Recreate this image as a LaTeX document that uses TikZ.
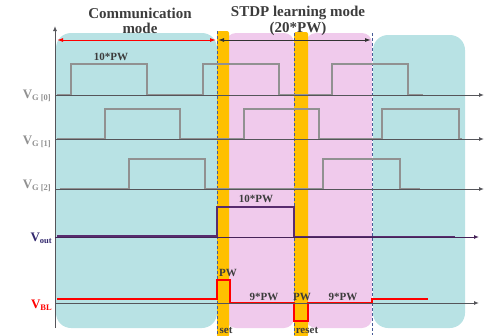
\documentclass[tikz,border=0pt]{standalone}
\usepackage{fontspec}
\setmainfont{Liberation Serif}
\usetikzlibrary{arrows.meta}
\definecolor{cyanbg}{RGB}{184,226,228}
\definecolor{pinkbg}{RGB}{240,202,236}
\definecolor{orangebar}{RGB}{255,192,0}
\definecolor{siggray}{RGB}{145,145,145}
\definecolor{axisgray}{RGB}{85,85,90}
\definecolor{dashblue}{RGB}{70,90,150}
\definecolor{voutc}{RGB}{88,44,110}
\definecolor{voutlab}{RGB}{50,40,110}
\definecolor{txtdark}{RGB}{60,60,60}
\tikzset{
  axisline/.style={draw=axisgray,line width=1pt,-{Latex[length=5pt,width=4pt]}},
  sig/.style={draw=siggray,line width=2.6pt,line join=miter},
  guide/.style={draw=dashblue,line width=0.8pt,dash pattern=on 3pt off 2pt},
  ttl/.style={font=\fontsize{15}{15.5}\selectfont\bfseries,text=txtdark,inner sep=0pt,align=center},
  lbl/.style={font=\fontsize{11}{11}\selectfont\bfseries,text=txtdark,inner sep=0pt},
  vlab/.style={anchor=base east,inner sep=0pt,font=\bfseries},
}
\newcommand{\vsig}[1]{{\fontsize{13}{13}\selectfont V}{\fontsize{8.5}{8.5}\selectfont\raisebox{-2.5pt}{#1}}}
\begin{document}
\begin{tikzpicture}[x=1pt,y=-1pt]
\useasboundingbox (0,0) rectangle (485,335);
% backgrounds
\fill[cyanbg,rounded corners=15pt] (56,33) rectangle (217,328);
\fill[pinkbg,rounded corners=10pt] (226,33) rectangle (294,328);
\fill[pinkbg,rounded corners=10pt] (306,33) rectangle (372,328);
\fill[cyanbg,rounded corners=15pt] (373,35) rectangle (465,328);
\fill[orangebar,rounded corners=2pt] (217,31) rectangle (229,337);
\fill[orangebar,rounded corners=2pt] (294,32) rectangle (308,337);
% guides
\coordinate (g1t) at (217,31); \coordinate (g1b) at (217,335);
\coordinate (g2t) at (294,33); \coordinate (g2b) at (294,335);
\coordinate (g3t) at (372,33); \coordinate (g3b) at (372,335);
\draw[guide] (g1t) -- (g1b);
\draw[guide] (g2t) -- (g2b);
\draw[guide] (g3t) -- (g3b);
% titles
\node[ttl] (comm) at (140,21) {Communication\\mode};
\node[ttl] (stdp) at (298,21) {STDP learning mode\\(20*PW)};
% mode arrows
\coordinate (ra) at (57,40); \coordinate (rb) at (216,40);
\coordinate (ba) at (218,40); \coordinate (bb) at (371,40);
\draw[red,line width=1pt,{Latex[length=6pt,width=4pt]}-{Latex[length=6pt,width=4pt]}] (ra) -- (rb);
\draw[black!80,line width=1pt,{Latex[length=6pt,width=4pt]}-{Latex[length=6pt,width=4pt]}] (ba) -- (bb);
% axes
\coordinate (yaxb) at (55,328); \coordinate (yaxt) at (55,26);
\draw[axisline] (yaxb) -- (yaxt);
\coordinate (a0) at (55,95);  \coordinate (e0) at (484,95);
\coordinate (a1) at (55,139); \coordinate (e1) at (484,139);
\coordinate (a2) at (55,189); \coordinate (e2) at (484,189);
\coordinate (a3) at (55,237); \coordinate (e3) at (479,237);
\coordinate (a4) at (55,303); \coordinate (e4) at (479,303);
% gate signals
\draw[sig] (57,95) -- (71,95) -- (71,64) -- (147,64) -- (147,95) -- (203,95) -- (203,64) -- (279,64) -- (279,95) -- (332,95) -- (332,64) -- (408,64) -- (408,95) -- (423,95);
\draw[sig] (57,139) -- (105,139) -- (105,109) -- (180,109) -- (180,139) -- (244,139) -- (244,109) -- (319,109) -- (319,139) -- (382,139) -- (382,109) -- (459,109) -- (459,139) -- (462,139);
\draw[sig] (60,189) -- (129,189) -- (129,159) -- (205,159) -- (205,189) -- (323,189) -- (323,159) -- (400,159) -- (400,189) -- (420,189);
% Vout
\draw[voutc,line width=2.4pt] (57,236) -- (217,236) -- (217,207) -- (294,207) -- (294,237) -- (455,237);
% VBL
\draw[red,line width=2.4pt] (57,299) -- (217,299) -- (217,280) -- (230,280) -- (230,303) -- (294,303) -- (294,321) -- (308,321) -- (308,303) -- (372,303) -- (372,299) -- (428,299);
% axis lines on top
\draw[axisline] (a0) -- (e0);
\draw[axisline] (a1) -- (e1);
\draw[axisline] (a2) -- (e2);
\draw[axisline,draw=voutc!80!black] (a3) -- (e3);
\draw[axisline] (a4) -- (e4);
% signal labels
\node[vlab,text=siggray] (lg0) at (51,98) {\vsig{G [0]}};
\node[vlab,text=siggray] (lg1) at (51,144) {\vsig{G [1]}};
\node[vlab,text=siggray] (lg2) at (51,188) {\vsig{G [2]}};
\node[vlab,text=voutlab] (lout) at (52,241) {\vsig{out}};
\node[vlab,text=red] (lbl) at (52,308) {\vsig{BL}};
% timing labels
\node[lbl] (pw10a) at (111,57) {10*PW};
\node[lbl] (pw10b) at (256,199) {10*PW};
\node[lbl] (pwset) at (228,273) {PW};
\node[lbl] (pw9a) at (264,297) {9*PW};
\node[lbl] (pwreset) at (302,297) {PW};
\node[lbl] (pw9b) at (343,297) {9*PW};
\node[lbl,anchor=base] (set) at (226,333) {set};
\node[lbl,anchor=base] (reset) at (307,333) {reset};
\end{tikzpicture}
\end{document}
